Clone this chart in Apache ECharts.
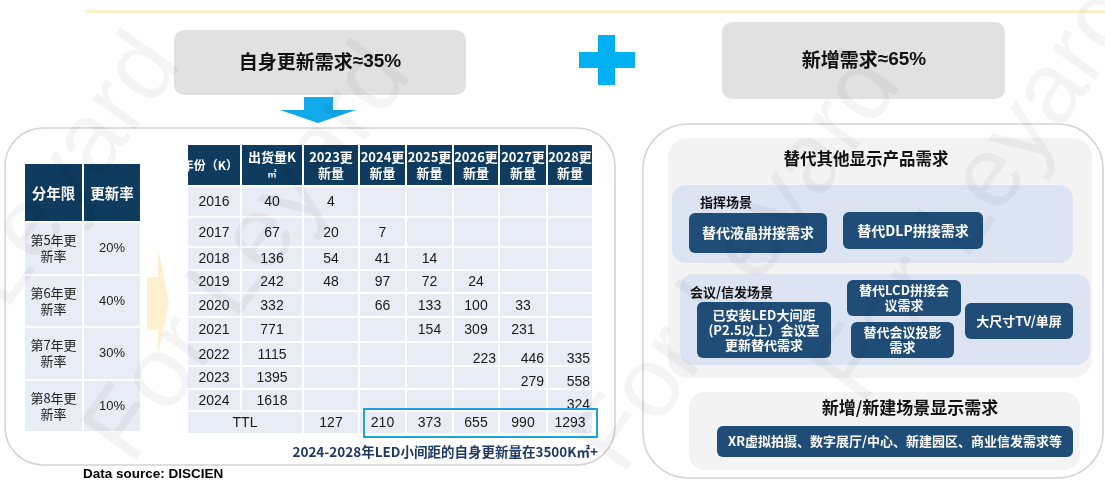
<!DOCTYPE html>
<html><head><meta charset="utf-8">
<script src="https://cdn.jsdelivr.net/npm/echarts@6/dist/echarts.min.js"></script>
<style>html,body{margin:0;padding:0;background:#fff}#c{width:1105px;height:480px}</style>
</head><body><div id="c"></div>
<script>
// ---------- data ----------
const topBoxes = [['自身更新需求', '≈35%'], ['新增需求', '≈65%']];
const ageHeader = ['分年限', '更新率'];
const ageLabels = ['第5年更\n新率', '第6年更\n新率', '第7年更\n新率', '第8年更\n新率'];
const renewRates = ['20%', '40%', '30%', '10%'];
const tableHeader = ['年份（K）', '出货量K', '2023更\n新量', '2024更\n新量', '2025更\n新量', '2026更\n新量', '2027更\n新量', '2028更\n新量'];
const years = ['2016', '2017', '2018', '2019', '2020', '2021', '2022', '2023', '2024'];
const shipments = [40, 67, 136, 242, 332, 771, 1115, 1395, 1618];
const renew2023 = [4, 20, 54, 48, null, null, null, null, null];
const renew2024 = [null, 7, 41, 97, 66, null, null, null, null];
const renew2025 = [null, null, 14, 72, 133, 154, null, null, null];
const renew2026 = [null, null, null, 24, 100, 309, 223, null, null];
const renew2027 = [null, null, null, null, 33, 231, 446, 279, null];
const renew2028 = [null, null, null, null, null, null, 335, 558, 324];
const totalLabel = 'TTL';
const totals = [127, 210, 373, 655, 990, 1293];
const caption = '2024-2028年LED小间距的自身更新量在3500K㎡+';
const source = 'Data source: DISCIEN';
const rightTitle = '替代其他显示产品需求';
const commandScene = '指挥场景';
const commandNeeds = ['替代液晶拼接需求', '替代DLP拼接需求'];
const meetingScene = '会议/信发场景';
const meetingNeeds = ['已安装LED大间距\n(P2.5以上）会议室\n更新替代需求', '替代LCD拼接会\n议需求', '替代会议投影\n需求', '大尺寸TV/单屏'];
const newTitle = '新增/新建场景显示需求';
const newNeeds = ['XR虚拟拍摄、数字展厅/中心、新建园区、商业信发需求等'];
const watermark = 'For Leyard';

// ---------- layout / style ----------
const CN = '"Noto Sans CJK SC", sans-serif';
const NUM = '"Liberation Sans", Arial, sans-serif';
const NAVY = '#0f3b5e', BTN = '#1f4d78', CELL = '#e8ecf5', DARK = '#1a1a1a';
const colX = [187, 241, 303, 359, 406, 453, 499, 547, 593];
const rowY = [145, 186, 217, 247, 270, 293, 317, 342, 366, 389, 411, 434];
const ageColX = [24, 83, 141];
const ageRowY = [164, 222, 275, 327, 380, 432];

const G = [];
let zc = 1;
function rect(x, y, w, h, style, r) {
  G.push({ type: 'rect', z: zc++, shape: { x, y, width: w, height: h, r: r || 0 }, style });
}
function txt(x, y, t, font, fill, align, extra) {
  G.push({ type: 'text', z: zc++, style: Object.assign({ text: t, x, y, font, fill, textAlign: align || 'center', textVerticalAlign: 'middle' }, extra || {}) });
}
function poly(points, fill) {
  G.push({ type: 'polygon', z: zc++, shape: { points }, style: { fill } });
}
function boxTitle(x, y, parts) {
  txt(x, y, '{a|' + parts[0] + '}{b|' + parts[1] + '}', 'bold 19px ' + CN, '#111', 'center', {
    rich: { a: { font: 'bold 19px ' + CN, fill: '#111' }, b: { font: 'bold 19px ' + NUM, fill: '#111' } }
  });
}

// top line
rect(85, 10, 1020, 3, { fill: '#fdf0cc' });
// top boxes
rect(174, 30, 292, 65, { fill: '#e1e1e1' }, 10);
boxTitle(320, 62, topBoxes[0]);
rect(722, 22, 283, 77, { fill: '#e1e1e1' }, 10);
boxTitle(864, 60, topBoxes[1]);
// down arrow
poly([[304, 97], [333, 97], [333, 110], [356, 110], [318, 123], [280, 110], [304, 110]], '#12a9ea');
// plus
rect(598, 35, 17, 50, { fill: '#00b0f0' });
rect(579, 52, 56, 16, { fill: '#00b0f0' });

// frames
rect(5, 128, 610, 337, { fill: 'none', stroke: '#d4d4d4', lineWidth: 1.5 }, 38);
rect(643, 124, 460, 354, { fill: 'none', stroke: '#d4d4d4', lineWidth: 1.5 }, 45);

// faint yellow arrow
poly([[147, 277], [158, 277], [158, 248], [169, 302], [158, 355], [158, 330], [147, 330]], '#fdf1cf');

// left table (age / rate)
ageHeader.forEach((h, i) => {
  rect(ageColX[i] + 1, ageRowY[0], ageColX[i + 1] - ageColX[i] - 2, ageRowY[1] - ageRowY[0] - 1, { fill: NAVY });
  txt((ageColX[i] + ageColX[i + 1]) / 2, (ageRowY[0] + ageRowY[1]) / 2, h, 'bold 14.5px ' + CN, '#fff');
});
ageLabels.forEach((l, r) => {
  const y0 = ageRowY[r + 1] + 1, y1 = ageRowY[r + 2] - 1, cy = (y0 + y1) / 2;
  rect(ageColX[0] + 1, y0, ageColX[1] - ageColX[0] - 2, y1 - y0, { fill: CELL });
  rect(ageColX[1] + 1, y0, ageColX[2] - ageColX[1] - 2, y1 - y0, { fill: CELL });
  txt((ageColX[0] + ageColX[1]) / 2, cy, l, '13px ' + CN, '#222', 'center', { lineHeight: 16 });
  txt((ageColX[1] + ageColX[2]) / 2, cy, renewRates[r], '13px ' + NUM, '#222');
});

// main table header
tableHeader.forEach((h, i) => {
  rect(colX[i] + 1, rowY[0], colX[i + 1] - colX[i] - 2, rowY[1] - rowY[0] - 1, { fill: NAVY });
  const cx = (colX[i] + colX[i + 1]) / 2, cy = (rowY[0] + rowY[1]) / 2;
  if (i === 0) {
    txt(colX[1] - 3, cy, h, 'bold 12px ' + CN, '#fff', 'right');
  } else if (i === 1) {
    txt(cx, cy - 8, h, 'bold 13px ' + CN, '#fff');
    txt(cx, cy + 8, '㎡', 'bold 9px ' + CN, '#fff');
  } else {
    txt(cx, cy, h, 'bold 13px ' + CN, '#fff', 'center', { lineHeight: 16 });
  }
});
// clip the overflowing first header text
rect(170, rowY[0] - 2, colX[0] - 170, rowY[1] - rowY[0] + 4, { fill: '#fff' });

// main table body
const renewCols = [renew2023, renew2024, renew2025, renew2026, renew2027, renew2028];
years.forEach((yr, r) => {
  const y0 = rowY[r + 1] + 1, y1 = rowY[r + 2] - 1, cy = (y0 + y1) / 2 + 1;
  for (let c = 0; c < 8; c++) rect(colX[c] + 1, y0, colX[c + 1] - colX[c] - 2, y1 - y0, { fill: CELL });
  txt((colX[0] + colX[1]) / 2, cy, yr, '14px ' + NUM, DARK);
  txt((colX[1] + colX[2]) / 2, cy, String(shipments[r]), '14px ' + NUM, DARK);
  renewCols.forEach((col, k) => {
    const v = col[r];
    if (v == null) return;
    const c = k + 2;
    if (r >= 6) txt(colX[c + 1] - 3, cy + 4, String(v), '14px ' + NUM, DARK, 'right');
    else txt((colX[c] + colX[c + 1]) / 2, cy, String(v), '14px ' + NUM, DARK);
  });
});
// totals row
{
  const r = years.length;
  const y0 = rowY[r + 1] + 1, y1 = rowY[r + 2] - 1, cy = (y0 + y1) / 2 + 1;
  rect(colX[0] + 1, y0, colX[2] - colX[0] - 2, y1 - y0, { fill: CELL });
  txt((colX[0] + colX[2]) / 2, cy, totalLabel, '14px ' + NUM, DARK);
  totals.forEach((v, k) => {
    const c = k + 2;
    rect(colX[c] + 1, y0, colX[c + 1] - colX[c] - 2, y1 - y0, { fill: CELL });
    txt((colX[c] + colX[c + 1]) / 2, cy, String(v), '14px ' + NUM, DARK);
  });
  // highlight box
  rect(colX[3] + 5, rowY[r + 1] - 2, colX[8] - colX[3] - 1, rowY[r + 2] - rowY[r + 1] + 5, { fill: 'none', stroke: '#1aa3e0', lineWidth: 2 }, 0);
}
txt(598, 452, caption, 'bold 13.5px ' + CN, '#1f3864', 'right');
txt(83, 474, source, 'bold 13.5px ' + NUM, '#000', 'left');

// right side
rect(668, 138, 424, 240, { fill: '#f3f3f3' }, 20);
txt(866, 159, rightTitle, 'bold 16.5px ' + CN, '#111');
rect(672, 185, 401, 78, { fill: '#dce3f3' }, 14);
txt(700, 202, commandScene, 'bold 13px ' + CN, '#111', 'left');
const cmdBtns = [[689, 213, 138, 40], [843, 212, 140, 37]];
commandNeeds.forEach((t, i) => {
  const b = cmdBtns[i];
  rect(b[0], b[1], b[2], b[3], { fill: BTN }, 6);
  txt(b[0] + b[2] / 2, b[1] + b[3] / 2, t, 'bold 14px ' + CN, '#fff');
});
rect(680, 274, 410, 91, { fill: '#dce3f3' }, 14);
txt(690, 292, meetingScene, 'bold 13px ' + CN, '#111', 'left');
const meetBtns = [[697, 302, 134, 56], [847, 280, 114, 36], [851, 322, 103, 36], [965, 303, 108, 36]];
meetingNeeds.forEach((t, i) => {
  const b = meetBtns[i];
  rect(b[0], b[1], b[2], b[3], { fill: BTN }, 6);
  txt(b[0] + b[2] / 2, b[1] + b[3] / 2, t, 'bold 13px ' + CN, '#fff', 'center', { lineHeight: 15 });
});
rect(689, 392, 391, 78, { fill: '#f3f3f3' }, 16);
txt(910, 408, newTitle, 'bold 17px ' + CN, '#111');
rect(717, 426, 356, 31, { fill: BTN }, 6);
txt(895, 441.5, newNeeds[0], 'bold 13px ' + CN, '#fff');

// faint watermarks
[[150, 480], [-80, 470], [640, 490], [880, 420]].forEach(p => {
  G.push({ type: 'text', z: 500, x: p[0], y: p[1], rotation: 0.95,
    style: { text: watermark, font: '100px ' + NUM, fill: 'rgba(0,0,0,0.045)', textAlign: 'left', textVerticalAlign: 'bottom' } });
});

const chart = echarts.init(document.getElementById('c'), null, { renderer: 'canvas' });
chart.setOption({ backgroundColor: '#fff', animation: false, graphic: { elements: G } });
</script>
</body></html>
